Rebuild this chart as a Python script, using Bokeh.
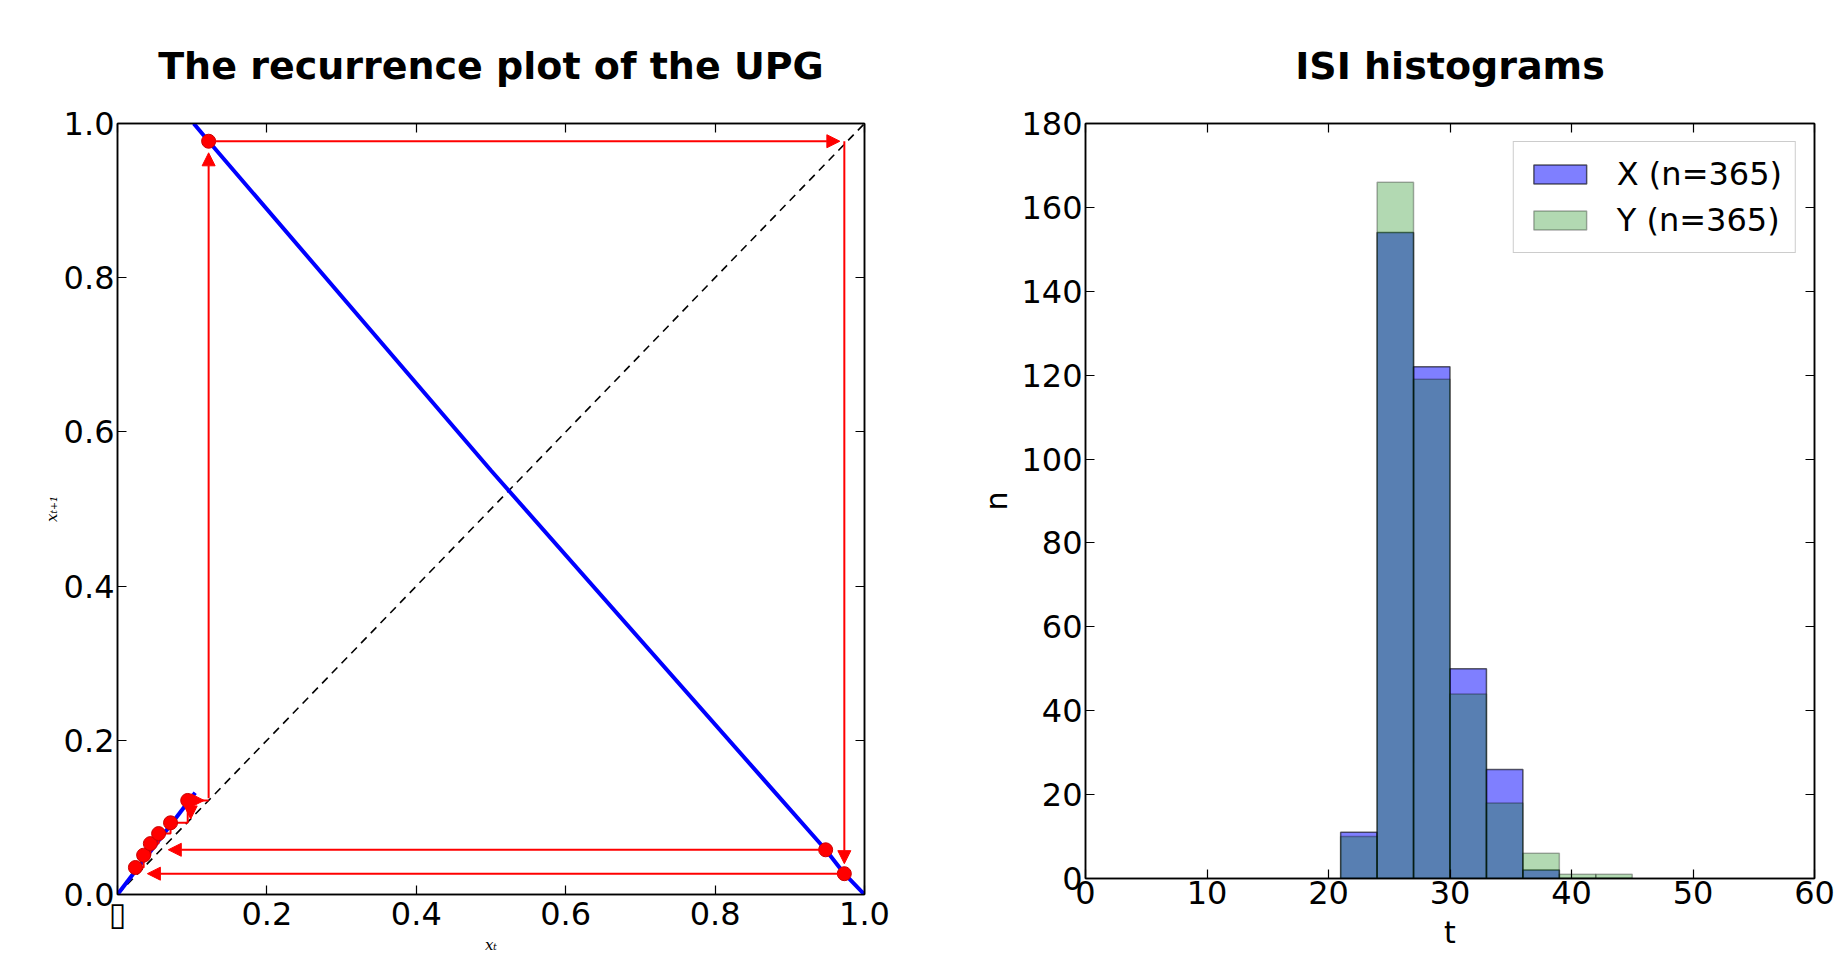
from bokeh.plotting import figure
from bokeh.layouts import row
from bokeh.models import (LinearAxis, Range1d, FixedTicker, Arrow, NormalHead,
                          ColumnDataSource, Legend, LegendItem, PrintfTickFormatter)
from bokeh.embed import file_html
from bokeh.resources import INLINE

# ---------------- data: recurrence plot ----------------
map_left_x = [0.0, 0.104]
map_left_y = [0.0, 0.132]
map_right_x = [0.102, 0.122, 0.5, 0.948, 0.973, 1.0]
map_right_y = [1.0, 0.977, 0.55, 0.058, 0.027, 0.0]
diag_x = [0.0, 1.0]
diag_y = [0.0, 1.0]
orbit_x = [0.122, 0.948, 0.973, 0.024, 0.035, 0.044, 0.055, 0.071, 0.094]
orbit_y = [0.977, 0.058, 0.027, 0.035, 0.051, 0.066, 0.079, 0.093, 0.122]
stair_x = [0.024, 0.035, 0.035, 0.044, 0.044, 0.055, 0.055, 0.071, 0.071, 0.094, 0.094, 0.122]
stair_y = [0.035, 0.035, 0.051, 0.051, 0.066, 0.066, 0.079, 0.079, 0.093, 0.093, 0.122, 0.122]
arrow_x0 = [0.122, 0.122, 0.973, 0.973, 0.948, 0.094, 0.098]
arrow_y0 = [0.125, 0.977, 0.977, 0.027, 0.058, 0.122, 0.122]
arrow_x1 = [0.122, 0.967, 0.973, 0.040, 0.068, 0.116, 0.098]
arrow_y1 = [0.962, 0.977, 0.040, 0.027, 0.058, 0.122, 0.098]
unit_ticks = [0.0, 0.2, 0.4, 0.6, 0.8, 1.0]

# ---------------- data: ISI histograms ----------------
bin_edges = [21, 24, 27, 30, 33, 36, 39, 42, 45]
x_counts = [11, 154, 122, 50, 26, 2, 0, 0]
y_counts = [10, 166, 119, 44, 18, 6, 1, 1]
x_label = "X (n=365)"
y_label = "Y (n=365)"
t_ticks = [0, 10, 20, 30, 40, 50, 60]
n_ticks = [0, 20, 40, 60, 80, 100, 120, 140, 160, 180]

FONT = "DejaVu Sans"
TICK_FS = "32px"


def style_axis(ax, ticks, show_labels=True):
    ax.ticker = FixedTicker(ticks=ticks)
    ax.major_tick_in = 9
    ax.major_tick_out = 0
    ax.minor_tick_line_color = None
    ax.axis_line_width = 1.5
    ax.major_tick_line_width = 1.2
    ax.major_label_text_font = FONT
    ax.major_label_text_font_size = TICK_FS
    ax.major_label_text_color = "black"
    ax.major_label_standoff = 3
    ax.axis_label_text_color = "black"
    if not show_labels:
        ax.major_label_text_font_size = "0px"
        ax.major_label_text_color = None


def base_figure(fw, fh, xr, yr, bl, br, bt, bb, title):
    p = figure(frame_width=fw, frame_height=fh, x_range=xr, y_range=yr,
               output_backend="svg", toolbar_location=None,
               min_border_left=bl, min_border_right=br,
               min_border_top=bt, min_border_bottom=bb)
    p.grid.visible = False
    p.outline_line_color = "black"
    p.outline_line_width = 1.5
    p.background_fill_color = "white"
    p.border_fill_color = "white"
    p.title.text = title
    p.title.align = "center"
    p.title.text_font = FONT
    p.title.text_font_style = "bold"
    p.title.text_font_size = "38px"
    p.title.text_color = "black"
    p.title.standoff = 71
    return p


# ---------------- left: recurrence plot ----------------
p1 = base_figure(747, 771, Range1d(0, 1), Range1d(0, 1), 117, 111, 123, 60,
                 "The recurrence plot of the UPG")
style_axis(p1.xaxis[0], unit_ticks)
style_axis(p1.yaxis[0], unit_ticks)
p1.xaxis[0].formatter = PrintfTickFormatter(format="%.1f")
p1.yaxis[0].formatter = PrintfTickFormatter(format="%.1f")
p1.xaxis[0].major_label_overrides = {0: "\u25af"}
p1.xaxis[0].major_label_standoff = 0
p1.xaxis[0].axis_label = "x\u209c"
p1.yaxis[0].axis_label = "x\u209c\u208a\u2081"
for ax in (p1.xaxis[0], p1.yaxis[0]):
    ax.axis_label_text_font = "DejaVu Serif"
    ax.axis_label_text_font_style = "italic"
    ax.axis_label_text_font_size = "15px"
    ax.axis_label_standoff = 0
for loc, ticks in (("right", unit_ticks), ("above", unit_ticks)):
    ax = LinearAxis()
    style_axis(ax, ticks, show_labels=False)
    p1.add_layout(ax, loc)

p1.line(diag_x, diag_y, line_color="black", line_dash="8 6", line_width=1.6)
p1.line(map_left_x, map_left_y, line_color="blue", line_width=4)
p1.line(map_right_x, map_right_y, line_color="blue", line_width=4)
p1.line(stair_x, stair_y, line_color="red", line_width=2)
arrows = ColumnDataSource(dict(x0=arrow_x0, y0=arrow_y0, x1=arrow_x1, y1=arrow_y1))
p1.add_layout(Arrow(source=arrows, x_start="x0", y_start="y0", x_end="x1", y_end="y1",
                    line_color="red", line_width=2,
                    end=NormalHead(size=13, fill_color="red", line_color="red")))
p1.scatter(orbit_x, orbit_y, size=14, fill_color="red", line_color="#cc0000")

# ---------------- right: ISI histograms ----------------
p2 = base_figure(729, 755, Range1d(0, 60), Range1d(0, 180), 110, 25, 123, 60,
                 "ISI histograms")
style_axis(p2.xaxis[0], t_ticks)
style_axis(p2.yaxis[0], n_ticks)
p2.xaxis[0].major_label_standoff = 2
p2.xaxis[0].axis_label = "t"
p2.yaxis[0].axis_label = "n"
for ax in (p2.xaxis[0], p2.yaxis[0]):
    ax.axis_label_text_font = FONT
    ax.axis_label_text_font_style = "normal"
    ax.axis_label_text_font_size = "30px"
p2.xaxis[0].axis_label_standoff = 8
p2.yaxis[0].axis_label_standoff = 4
for loc, ticks in (("right", n_ticks), ("above", t_ticks)):
    ax = LinearAxis()
    style_axis(ax, ticks, show_labels=False)
    p2.add_layout(ax, loc)

rx = p2.quad(left=bin_edges[:-1], right=bin_edges[1:], bottom=0, top=x_counts,
             fill_color="blue", fill_alpha=0.5, line_color="black", line_alpha=0.6,
             line_width=1.5)
ry = p2.quad(left=bin_edges[:-1], right=bin_edges[1:], bottom=0, top=y_counts,
             fill_color="green", fill_alpha=0.3, line_color="black", line_alpha=0.3,
             line_width=1.5)
legend = Legend(items=[LegendItem(label=x_label, renderers=[rx]),
                       LegendItem(label=y_label, renderers=[ry])],
                location="top_right")
legend.label_text_font = FONT
legend.label_text_font_size = "32px"
legend.label_text_color = "black"
legend.label_standoff = 24
legend.glyph_width = 66
legend.glyph_height = 24
legend.spacing = 8
legend.padding = 13
legend.margin = 18
legend.border_line_color = "#999999"
legend.border_line_width = 1.2
legend.background_fill_alpha = 1.0
p2.add_layout(legend)

layout = row(p1, p2, spacing=0)
open("out.html", "w").write(file_html(layout, INLINE))
